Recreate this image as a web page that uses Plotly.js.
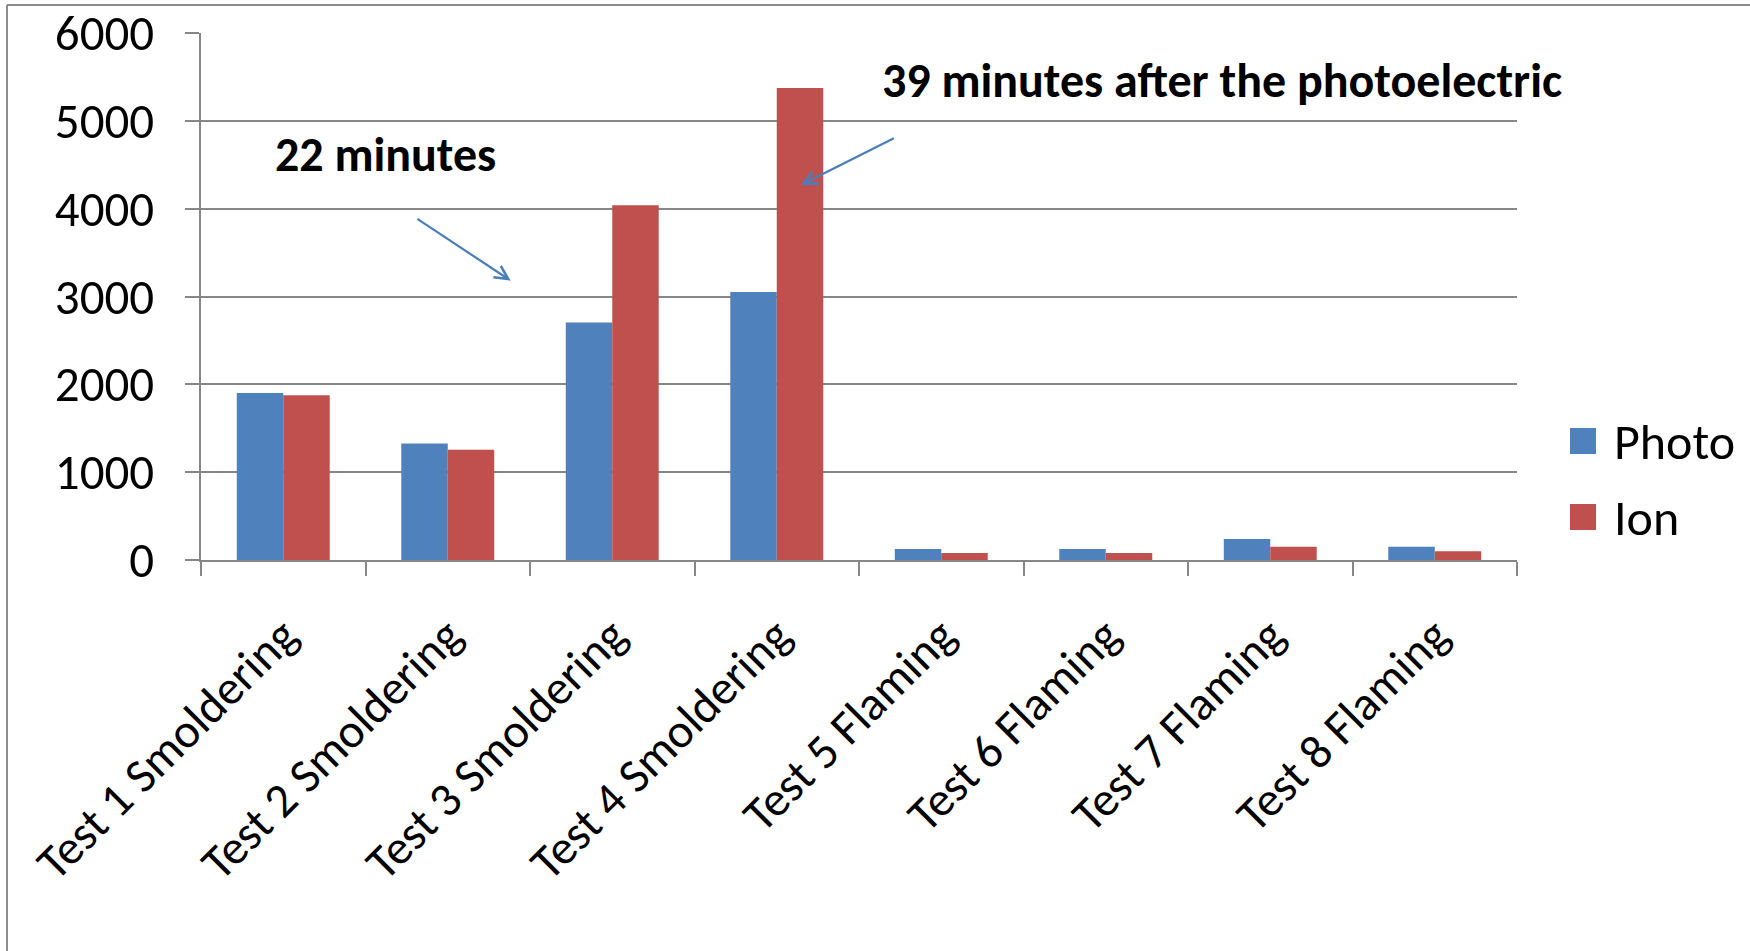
<!DOCTYPE html>
<html>
<head>
<meta charset="utf-8">
<script src="https://cdn.plot.ly/plotly-3.0.1.min.js"></script>
<style>
  html, body { margin: 0; padding: 0; background: #fff; }
  #chart { width: 1750px; height: 951px; }
</style>
</head>
<body>
<div id="chart"></div>
<script>
// Smoke alarm response per test, two detector types
const categories = [
  "Test 1 Smoldering", "Test 2 Smoldering", "Test 3 Smoldering", "Test 4 Smoldering",
  "Test 5 Flaming", "Test 6 Flaming", "Test 7 Flaming", "Test 8 Flaming"
];
const seriesNames = ["Photo", "Ion"];
const photoValues = [1900, 1325, 2705, 3050, 125, 125, 240, 150];
const ionValues   = [1875, 1255, 4040, 5375, 80, 80, 150, 100];
const seriesColors = ["#4F81BD", "#C0504D"];
const yTicks = [0, 1000, 2000, 3000, 4000, 5000, 6000];

const W = 1750, H = 951;
const M = { l: 201, r: 233, t: 33, b: 391 };
const plotW = W - M.l - M.r, plotH = H - M.t - M.b;
// pixel -> paper helpers for decorations outside the plot area
const px = v => (v - M.l) / plotW;
const py = v => (H - M.b - v) / plotH;

const FONT = "Calibri, Carlito, Lato, sans-serif";
const gridGrey = "#878787";

const traces = [photoValues, ionValues].map((vals, i) => ({
  type: "bar",
  name: seriesNames[i],
  x: categories,
  y: vals,
  marker: { color: seriesColors[i], line: { width: 0 } },
  showlegend: false,
  hoverinfo: "x+y+name"
}));

// legend drawn as swatches + labels at the right side
const legendShapes = [], legendNotes = [];
seriesNames.forEach((name, i) => {
  const cy = 441 + i * 76;
  legendShapes.push({
    type: "rect", xref: "paper", yref: "paper",
    x0: px(1570), x1: px(1596), y0: py(cy + 13), y1: py(cy - 13),
    fillcolor: seriesColors[i], line: { width: 0 }
  });
  legendNotes.push({
    xref: "paper", yref: "paper", x: px(1612), y: py(cy),
    xanchor: "left", yanchor: "middle", showarrow: false,
    text: name, font: { family: FONT, size: 50, color: "#000" }
  });
});

const frameShapes = [
  { type: "line", xref: "paper", yref: "paper", x0: px(7), x1: px(W + 5), y0: py(5), y1: py(5),
    line: { color: "#8c8c8c", width: 2 } },
  { type: "line", xref: "paper", yref: "paper", x0: px(7), x1: px(7), y0: py(5), y1: py(H + 5),
    line: { color: "#8c8c8c", width: 2 } }
];

const notes = [
  { xref: "x", yref: "y", x: -0.06, y: 4620, xanchor: "left", yanchor: "middle",
    showarrow: false, text: "<b>22 minutes</b>", font: { family: FONT, size: 48, color: "#000" } },
  { xref: "x", yref: "y", x: 3.628, y: 5455, xanchor: "left", yanchor: "middle",
    showarrow: false, text: "<b>39 minutes after the photoelectric</b>",
    font: { family: FONT, size: 48, color: "#000" } },
  // arrows pointing at the ion detector bars
  { xref: "x", yref: "y", axref: "x", ayref: "y",
    x: 1.383, y: 3180, ax: 0.806, ay: 3895, text: "",
    showarrow: true, arrowhead: 5, arrowsize: 1.2, arrowwidth: 2.2, arrowcolor: "#4A7EBB" },
  { xref: "x", yref: "y", axref: "x", ayref: "y",
    x: 3.148, y: 4270, ax: 3.721, ay: 4810, text: "",
    showarrow: true, arrowhead: 5, arrowsize: 1.2, arrowwidth: 2.2, arrowcolor: "#4A7EBB" }
];

const layout = {
  width: W, height: H,
  margin: M,
  paper_bgcolor: "#fff", plot_bgcolor: "#fff",
  font: { family: FONT, color: "#000" },
  barmode: "group",
  bargap: 0.435,
  bargroupgap: 0,
  xaxis: {
    type: "category",
    range: [-0.5, categories.length - 0.5],
    autorange: false,
    tickangle: -45,
    tickson: "boundaries",
    ticks: "outside", ticklen: 14, tickwidth: 2, tickcolor: gridGrey,
    showline: true, linecolor: gridGrey, linewidth: 2,
    showgrid: false, zeroline: false,
    tickfont: { family: FONT, size: 48, color: "#000" },
    ticklabelstandoff: 26
  },
  yaxis: {
    range: [0, 6000],
    autorange: false,
    tickvals: yTicks,
    ticktext: yTicks.map(String),
    ticks: "outside", ticklen: 14, tickwidth: 2, tickcolor: gridGrey,
    showline: true, linecolor: gridGrey, linewidth: 2,
    showgrid: true, gridcolor: gridGrey, gridwidth: 2,
    zeroline: false,
    tickfont: { family: FONT, size: 49, color: "#000" },
    ticklabelstandoff: 21
  },
  shapes: frameShapes.concat(legendShapes),
  annotations: notes.concat(legendNotes)
};

Plotly.newPlot("chart", traces, layout, { displayModeBar: false, staticPlot: true });
</script>
</body>
</html>
